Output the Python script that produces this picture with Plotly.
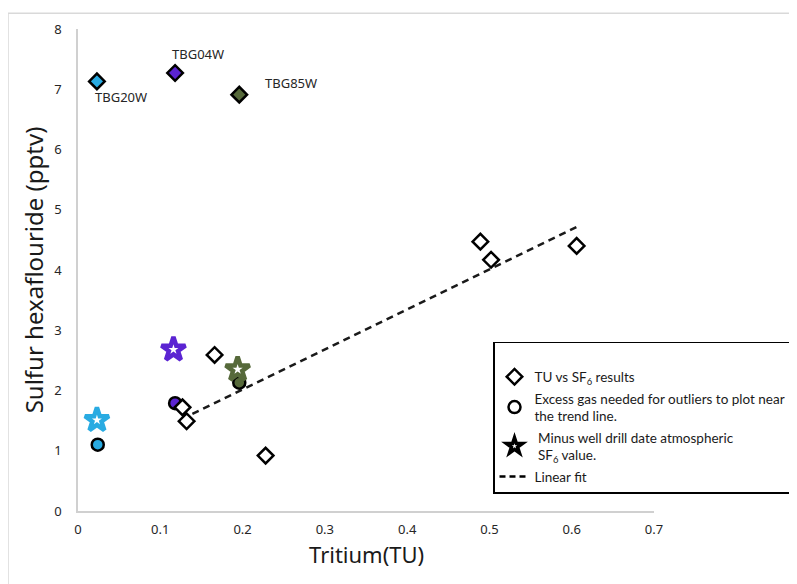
import numpy as np
import plotly.graph_objects as go

W, H = 797, 584
ML, MR, MT, MB = 70, 151, 16, 81

# TU vs SF6 results (trend samples)
res_tu = [0.127, 0.132, 0.166, 0.228, 0.489, 0.502, 0.606]
res_sf6 = [1.72, 1.49, 2.59, 0.92, 4.47, 4.17, 4.40]

# Outlier wells
well_names = ["TBG20W", "TBG04W", "TBG85W"]
well_colors = ["#29abe2", "#5b24d2", "#56693a"]
well_tu = [0.023, 0.118, 0.196]
well_sf6 = [7.13, 7.27, 6.91]

# Excess gas needed (circles)
excess_tu = [0.024, 0.118, 0.196]
excess_sf6 = [1.10, 1.79, 2.13]

# Minus well drill date atmospheric value (stars)
star_tu = [0.023, 0.116, 0.194]
star_sf6 = [1.51, 2.68, 2.35]

# Linear fit range
fit_range = [min(res_tu) + 0.012, max(res_tu)]

slope, icpt = np.polyfit(res_tu, res_sf6, 1)
fit_x = np.array(fit_range)
fit_y = slope * fit_x + icpt

fig = go.Figure()

# linear fit
fig.add_trace(go.Scatter(x=fit_x, y=fit_y, mode="lines",
                         line=dict(color="#1a1a1a", width=2.5, dash="7px,5px"),
                         showlegend=False, hoverinfo="skip"))

# circles
fig.add_trace(go.Scatter(x=excess_tu, y=excess_sf6, mode="markers",
                         marker=dict(symbol="circle", size=12, color=well_colors,
                                     line=dict(color="black", width=2.5)),
                         showlegend=False))
# stars
fig.add_trace(go.Scatter(x=star_tu, y=star_sf6, mode="markers",
                         marker=dict(symbol="star-open", size=18, color=well_colors,
                                     line=dict(color=well_colors, width=4.5)),
                         showlegend=False))
# result diamonds
fig.add_trace(go.Scatter(x=res_tu, y=res_sf6, mode="markers",
                         marker=dict(symbol="diamond", size=12, color="white",
                                     line=dict(color="black", width=2.5)),
                         showlegend=False))
# outlier diamonds
fig.add_trace(go.Scatter(x=well_tu, y=well_sf6, mode="markers",
                         marker=dict(symbol="diamond", size=12, color=well_colors,
                                     line=dict(color="black", width=2.5)),
                         showlegend=False))

# legend entries
leg_font = dict(family="Lato", size=13.5, color="#1a1a1a")
fig.add_trace(go.Scatter(x=[None], y=[None], mode="markers", name="TU vs SF<sub>6</sub> results",
                         marker=dict(symbol="diamond", size=12, color="white",
                                     line=dict(color="black", width=2.5)),
                         legendgroup="a"))
fig.add_trace(go.Scatter(x=[None], y=[None], mode="markers",
                         name="Excess gas needed for outliers to plot near<br>the trend line.",
                         marker=dict(symbol="circle", size=12, color="white",
                                     line=dict(color="black", width=2.5)),
                         legendgroup="b"))
fig.add_trace(go.Scatter(x=[None], y=[None], mode="markers",
                         name=" Minus well drill date atmospheric<br> SF<sub>6</sub> value.",
                         marker=dict(symbol="star-open", size=12, color="black",
                                     line=dict(color="black", width=3.5)),
                         legendgroup="c"))
fig.add_trace(go.Scatter(x=[None], y=[None], mode="lines", name="Linear fit",
                         line=dict(color="black", width=2.5, dash="6px,4px"),
                         legendgroup="d"))

# labels
offsets = {"TBG20W": (24, -16), "TBG04W": (23, 19), "TBG85W": (52, 12)}
for n, x, y in zip(well_names, well_tu, well_sf6):
    dx, dy = offsets[n]
    fig.add_annotation(x=x, y=y, text=n, showarrow=False, xshift=dx, yshift=dy,
                       font=dict(family="Noto Sans", size=13, color="#262626"))

pw = W - ML - MR
ph = H - MT - MB

# x axis title
fig.add_annotation(x=0.5, y=-(546 - (H - MB)) / ph, xref="paper", yref="paper",
                   text="Tritium(TU)", showarrow=False, yanchor="middle",
                   font=dict(family="Noto Sans", size=22, color="#1a1a1a"))

fig.add_shape(type="rect", xref="paper", yref="paper",
              x0=(0 - ML) / pw, x1=(W + 10 - ML) / pw,
              y0=-(MB + 10) / ph, y1=(ph + MT) / ph,
              line=dict(color="#d9d9d9", width=1.5), layer="below")

fig.update_layout(
    width=W, height=H,
    margin=dict(l=ML, r=MR, t=MT, b=MB),
    paper_bgcolor="white", plot_bgcolor="white",
    showlegend=True,
    legend=dict(x=(485 - ML) / pw, y=(H - MB - 332) / ph, xanchor="left", yanchor="top",
                bordercolor="black", borderwidth=1.5, bgcolor="white",
                font=leg_font, tracegroupgap=1, itemwidth=30,
                title=dict(text=" ", font=dict(size=14))),
    xaxis=dict(range=[0, 0.7], tickvals=[0, 0.1, 0.2, 0.3, 0.4, 0.5, 0.6, 0.7],
               ticktext=["0", "0.1", "0.2", "0.3", "0.4", "0.5", "0.6", "0.7"],
               showgrid=False, zeroline=False, showline=True, linecolor="#d0d0d0", linewidth=1.5,
               ticks="", ticklabelstandoff=6,
               tickfont=dict(family="Noto Sans", size=13, color="#262626")),
    yaxis=dict(range=[0, 8], tickvals=list(range(0, 9)),
               showgrid=False, zeroline=False, showline=True, linecolor="#d0d0d0", linewidth=1.5,
               ticks="", ticklabelstandoff=12,
               tickfont=dict(family="Noto Sans", size=13, color="#262626"),
               title=dict(text="Sulfur hexaflouride (pptv)", standoff=4,
                          font=dict(family="Noto Sans", size=24, color="#1a1a1a"))),
)

fig.write_html("out.html")
